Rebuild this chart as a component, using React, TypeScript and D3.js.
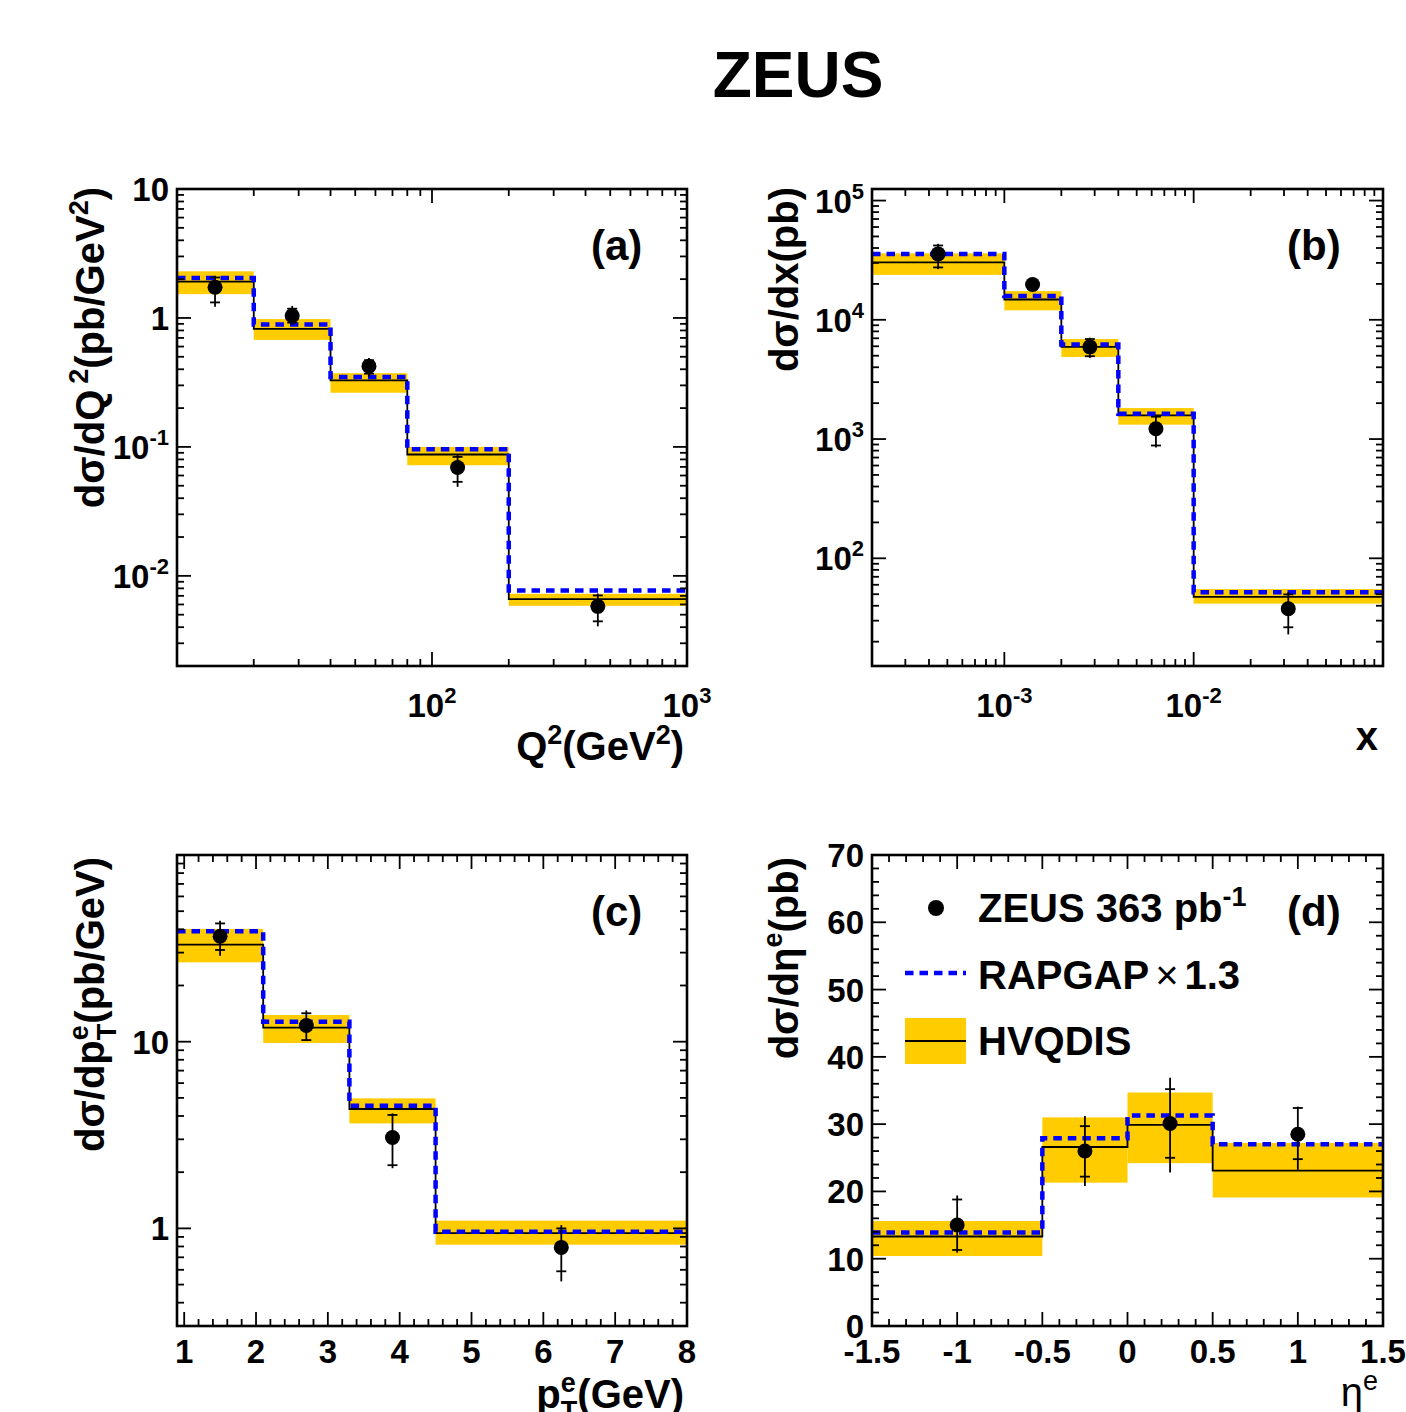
import React, { useEffect, useRef } from 'react';
import * as d3 from 'd3';

// ---- panel (a): d sigma / d Q^2 ----
const q2Edges = [10, 20, 40, 80, 200, 1000];
const q2Centers = [14.1, 28.3, 56.6, 126, 447];
const q2Data = [1.73, 1.04, 0.423, 0.0692, 0.0058];
const q2StatLo = [1.32, 0.92, 0.37, 0.0536, 0.00444];
const q2StatHi = [2.06, 1.18, 0.47, 0.0837, 0.00705];
const q2TotLo = [1.22, 0.88, 0.35, 0.049, 0.00406];
const q2TotHi = [2.12, 1.24, 0.49, 0.087, 0.0073];
const q2Hvq = [1.91, 0.822, 0.328, 0.0873, 0.0066];
const q2HvqLo = [1.53, 0.676, 0.263, 0.0721, 0.00586];
const q2HvqHi = [2.3, 0.98, 0.373, 0.1, 0.00726];
const q2Rap = [2.04, 0.888, 0.348, 0.096, 0.0077];

// ---- panel (b): d sigma / dx ----
const xEdges = [2e-4, 1e-3, 2e-3, 4e-3, 1e-2, 0.1];
const xCenters = [4.47e-4, 1.41e-3, 2.83e-3, 6.32e-3, 3.16e-2];
const xData = [3.57e4, 1.98e4, 5.93e3, 1.22e3, 37.8];
const xStatLo = [2.75e4, 1.8e4, 4.95e3, 883, 26.4];
const xStatHi = [4.2e4, 2.15e4, 6.9e3, 1.54e3, 49.8];
const xTotLo = [2.66e4, 1.75e4, 4.79e3, 850, 23];
const xTotHi = [4.34e4, 2.2e4, 7.08e3, 1.6e3, 52];
const xHvq = [3.03e4, 1.48e4, 5.93e3, 1.58e3, 47.5];
const xHvqLo = [2.38e4, 1.2e4, 4.88e3, 1.32e3, 41.7];
const xHvqHi = [3.61e4, 1.74e4, 6.9e3, 1.82e3, 55.2];
const xRap = [3.57e4, 1.58e4, 6.2e3, 1.63e3, 51.8];

// ---- panel (c): d sigma / d pT ----
const ptEdges = [0.9, 2.1, 3.3, 4.5, 8];
const ptCenters = [1.5, 2.7, 3.9, 6.25];
const ptData = [36.7, 12.2, 3.07, 0.791];
const ptStatLo = [31, 10.2, 2.18, 0.589];
const ptStatHi = [43, 14.2, 4.05, 1.0];
const ptTotLo = [28.9, 10.1, 2.1, 0.52];
const ptTotHi = [44.5, 14.7, 4.13, 1.04];
const ptHvq = [33.1, 11.9, 4.36, 0.944];
const ptHvqLo = [26.6, 9.84, 3.65, 0.818];
const ptHvqHi = [40.2, 13.9, 4.97, 1.1];
const ptRap = [39.0, 12.8, 4.54, 0.96];

// ---- panel (d): d sigma / d eta ----
const etaEdges = [-1.5, -0.5, 0, 0.5, 1.5];
const etaCenters = [-1, -0.25, 0.25, 1];
const etaData = [15.0, 26.0, 30.1, 28.5];
const etaStatLo = [11.3, 22.2, 25.0, 24.8];
const etaStatHi = [18.8, 29.7, 35.2, 32.4];
const etaTotLo = [10.9, 20.8, 22.8, 23.2];
const etaTotHi = [19.4, 31.2, 36.9, 32.6];
const etaHvq = [13.3, 26.6, 29.9, 23.1];
const etaHvqLo = [10.4, 21.3, 24.2, 19.1];
const etaHvqHi = [15.6, 31.0, 34.7, 27.2];
const etaRap = [13.9, 27.9, 31.3, 27.0];

// tick labels: [value, base, superscript]
const aXLabels: [number, string, string][] = [[100, '10', '2'], [1000, '10', '3']];
const aYLabels: [number, string, string][] = [[10, '10', ''], [1, '1', ''], [0.1, '10', '-1'], [0.01, '10', '-2']];
const bXLabels: [number, string, string][] = [[1e-3, '10', '-3'], [1e-2, '10', '-2']];
const bYLabels: [number, string, string][] = [[1e5, '10', '5'], [1e4, '10', '4'], [1e3, '10', '3'], [1e2, '10', '2']];
const cXLabels: [number, string, string][] = [1, 2, 3, 4, 5, 6, 7, 8].map(v => [v, String(v), '']);
const cYLabels: [number, string, string][] = [[10, '10', ''], [1, '1', '']];
const dXLabels: [number, string, string][] = [-1.5, -1, -0.5, 0, 0.5, 1, 1.5].map(v => [v, String(v), '']);
const dYLabels: [number, string, string][] = [0, 10, 20, 30, 40, 50, 60, 70].map(v => [v, String(v), '']);

const FONT = "'Liberation Sans', Arial, Helvetica, sans-serif";
const BAND = '#FFCC00';
const BLUE = '#0000FF';

type Tick = { v: number; major: boolean };

function logTicks(d0: number, d1: number): Tick[] {
  const out: Tick[] = [];
  for (let e = Math.floor(Math.log10(d0)); e <= Math.ceil(Math.log10(d1)); e++) {
    for (let k = 1; k <= 9; k++) {
      const v = k * Math.pow(10, e);
      if (v >= d0 * 0.9999 && v <= d1 * 1.0001) out.push({ v, major: k === 1 });
    }
  }
  return out;
}

function linTicks(d0: number, d1: number, major: number, minor: number): Tick[] {
  const out: Tick[] = [];
  const s = Math.ceil(d0 / minor - 1e-6), e = Math.floor(d1 / minor + 1e-6);
  for (let i = s; i <= e; i++) {
    const v = i * minor;
    out.push({ v, major: Math.abs(v / major - Math.round(v / major)) < 1e-6 });
  }
  return out;
}

interface Panel {
  x: number; y: number; w: number; h: number;
  xScale: any; yScale: any;
  xTicks: Tick[]; yTicks: Tick[];
  xLabels: [number, string, string][]; yLabels: [number, string, string][];
  xLabelDy: number;
  edges: number[]; centers: number[];
  data: number[]; statLo: number[]; statHi: number[]; totLo: number[]; totHi: number[];
  hvq: number[]; hvqLo: number[]; hvqHi: number[]; rap: number[];
  label: string; labelY: number;
}

function drawPanel(svg: d3.Selection<SVGSVGElement, unknown, null, undefined>, p: Panel) {
  const g = svg.append('g').attr('transform', `translate(${p.x},${p.y})`);
  const x = p.xScale.range([0, p.w]);
  const y = p.yScale.range([p.h, 0]);
  const yBottom = p.yScale.domain()[0];
  const nb = p.edges.length - 1;

  // HVQDIS uncertainty band
  for (let i = 0; i < nb; i++) {
    g.append('rect')
      .attr('x', x(p.edges[i]))
      .attr('width', x(p.edges[i + 1]) - x(p.edges[i]))
      .attr('y', y(p.hvqHi[i]))
      .attr('height', y(p.hvqLo[i]) - y(p.hvqHi[i]))
      .attr('fill', BAND);
  }

  const stepLine = d3.line<[number, number]>()
    .x(d => x(d[0]))
    .y(d => y(d[1]))
    .curve(d3.curveStepAfter);

  const stepPts = (vals: number[], fromBottom: boolean): [number, number][] => {
    const pts: [number, number][] = [];
    if (fromBottom) pts.push([p.edges[0], yBottom]);
    vals.forEach((v, i) => pts.push([p.edges[i], v]));
    pts.push([p.edges[nb], vals[nb - 1]]);
    return pts;
  };

  // HVQDIS central
  g.append('path')
    .attr('d', stepLine(stepPts(p.hvq, true)))
    .attr('fill', 'none')
    .attr('stroke', '#000')
    .attr('stroke-width', 1.8);

  // RAPGAP x 1.3
  g.append('path')
    .attr('d', stepLine(stepPts(p.rap, false)))
    .attr('fill', 'none')
    .attr('stroke', BLUE)
    .attr('stroke-width', 4.5)
    .attr('stroke-dasharray', '8.5 6');

  // data with errors
  p.centers.forEach((c, i) => {
    const cx = x(c);
    g.append('line')
      .attr('x1', cx).attr('x2', cx)
      .attr('y1', y(p.totLo[i])).attr('y2', y(p.totHi[i]))
      .attr('stroke', '#000').attr('stroke-width', 1.8);
    [p.statLo[i], p.statHi[i]].forEach(s => {
      g.append('line')
        .attr('x1', cx - 5).attr('x2', cx + 5)
        .attr('y1', y(s)).attr('y2', y(s))
        .attr('stroke', '#000').attr('stroke-width', 1.8);
    });
    g.append('circle')
      .attr('cx', cx).attr('cy', y(p.data[i]))
      .attr('r', 7.5).attr('fill', '#000');
  });

  // ticks on all four sides
  const tickG = g.append('g').attr('stroke', '#000').attr('stroke-width', 1.8);
  p.xTicks.forEach(t => {
    const tx = x(t.v);
    const len = t.major ? 14 : 7;
    tickG.append('line').attr('x1', tx).attr('x2', tx).attr('y1', p.h).attr('y2', p.h - len);
    tickG.append('line').attr('x1', tx).attr('x2', tx).attr('y1', 0).attr('y2', len);
  });
  p.yTicks.forEach(t => {
    const ty = y(t.v);
    const len = t.major ? 14 : 7;
    tickG.append('line').attr('x1', 0).attr('x2', len).attr('y1', ty).attr('y2', ty);
    tickG.append('line').attr('x1', p.w).attr('x2', p.w - len).attr('y1', ty).attr('y2', ty);
  });

  // frame
  g.append('rect')
    .attr('width', p.w).attr('height', p.h)
    .attr('fill', 'none').attr('stroke', '#000').attr('stroke-width', 2.6);

  // tick labels
  const fs = 33;
  p.xLabels.forEach(([v, base, sup]) => {
    const t = g.append('text')
      .attr('x', x(v)).attr('y', p.h + p.xLabelDy)
      .attr('text-anchor', 'middle')
      .attr('font-family', FONT).attr('font-weight', 'bold').attr('font-size', fs);
    t.append('tspan').text(base);
    if (sup) t.append('tspan').attr('dy', -14).attr('font-size', 22).text(sup);
  });
  p.yLabels.forEach(([v, base, sup]) => {
    const t = g.append('text')
      .attr('x', -8).attr('y', y(v) + 12)
      .attr('text-anchor', 'end')
      .attr('font-family', FONT).attr('font-weight', 'bold').attr('font-size', fs);
    t.append('tspan').text(base);
    if (sup) t.append('tspan').attr('dy', -14).attr('font-size', 22).text(sup);
  });

  // panel label
  g.append('text')
    .attr('x', p.w - 96).attr('y', p.labelY)
    .attr('font-family', FONT).attr('font-weight', 'bold').attr('font-size', 42)
    .text(p.label);
}

const App: React.FC = () => {
  const svgRef = useRef<SVGSVGElement>(null);

  useEffect(() => {
    if (!svgRef.current) return;
    const svg = d3.select(svgRef.current);
    svg.selectAll('*').remove();

    drawPanel(svg, {
      x: 177, y: 189, w: 510, h: 477,
      xScale: d3.scaleLog().domain([10, 1000]),
      yScale: d3.scaleLog().domain([0.002, 10]),
      xTicks: logTicks(10, 1000), yTicks: logTicks(0.002, 10),
      xLabels: aXLabels, yLabels: aYLabels, xLabelDy: 51,
      edges: q2Edges, centers: q2Centers,
      data: q2Data, statLo: q2StatLo, statHi: q2StatHi, totLo: q2TotLo, totHi: q2TotHi,
      hvq: q2Hvq, hvqLo: q2HvqLo, hvqHi: q2HvqHi, rap: q2Rap,
      label: '(a)', labelY: 71,
    });
    drawPanel(svg, {
      x: 872, y: 189, w: 511, h: 477,
      xScale: d3.scaleLog().domain([2e-4, 0.1]),
      yScale: d3.scaleLog().domain([12.5, 1.25e5]),
      xTicks: logTicks(2e-4, 0.1), yTicks: logTicks(12.5, 1.25e5),
      xLabels: bXLabels, yLabels: bYLabels, xLabelDy: 51,
      edges: xEdges, centers: xCenters,
      data: xData, statLo: xStatLo, statHi: xStatHi, totLo: xTotLo, totHi: xTotHi,
      hvq: xHvq, hvqLo: xHvqLo, hvqHi: xHvqHi, rap: xRap,
      label: '(b)', labelY: 71,
    });
    drawPanel(svg, {
      x: 177, y: 855, w: 510, h: 471,
      xScale: d3.scaleLinear().domain([0.9, 8]),
      yScale: d3.scaleLog().domain([0.3, 100]),
      xTicks: linTicks(0.9, 8, 1, 0.2), yTicks: logTicks(0.3, 100),
      xLabels: cXLabels, yLabels: cYLabels, xLabelDy: 37,
      edges: ptEdges, centers: ptCenters,
      data: ptData, statLo: ptStatLo, statHi: ptStatHi, totLo: ptTotLo, totHi: ptTotHi,
      hvq: ptHvq, hvqLo: ptHvqLo, hvqHi: ptHvqHi, rap: ptRap,
      label: '(c)', labelY: 71,
    });
    drawPanel(svg, {
      x: 872, y: 855, w: 511, h: 471,
      xScale: d3.scaleLinear().domain([-1.5, 1.5]),
      yScale: d3.scaleLinear().domain([0, 70]),
      xTicks: linTicks(-1.5, 1.5, 0.5, 0.1), yTicks: linTicks(0, 70, 10, 2),
      xLabels: dXLabels, yLabels: dYLabels, xLabelDy: 37,
      edges: etaEdges, centers: etaCenters,
      data: etaData, statLo: etaStatLo, statHi: etaStatHi, totLo: etaTotLo, totHi: etaTotHi,
      hvq: etaHvq, hvqLo: etaHvqLo, hvqHi: etaHvqHi, rap: etaRap,
      label: '(d)', labelY: 71,
    });

    // title
    svg.append('text')
      .attr('x', 798).attr('y', 97)
      .attr('text-anchor', 'middle')
      .attr('font-family', FONT).attr('font-weight', 'bold').attr('font-size', 64)
      .text('ZEUS');

    const tfs = 40;
    const bold = (sel: any) => sel.attr('font-family', FONT).attr('font-weight', 'bold').attr('font-size', tfs);

    // y titles
    const ya = bold(svg.append('text')).attr('transform', 'translate(104,187) rotate(-90)').attr('text-anchor', 'end');
    ya.append('tspan').text('dσ/dQ');
    ya.append('tspan').attr('dx', 6).attr('dy', -16).attr('font-size', 27).text('2');
    ya.append('tspan').attr('dy', 16).text('(pb/GeV');
    ya.append('tspan').attr('dy', -16).attr('font-size', 27).text('2');
    ya.append('tspan').attr('dy', 16).text(')');

    const yb = bold(svg.append('text')).attr('transform', 'translate(798,187) rotate(-90)').attr('text-anchor', 'end');
    yb.append('tspan').text('dσ/dx(pb)');

    const yc = bold(svg.append('text')).attr('transform', 'translate(104,857) rotate(-90)').attr('text-anchor', 'end');
    yc.append('tspan').text('dσ/dp');
    yc.append('tspan').attr('dy', -16).attr('font-size', 27).text('e');
    yc.append('tspan').attr('dx', -15).attr('dy', 28).attr('font-size', 27).text('T');
    yc.append('tspan').attr('dy', -12).text('(pb/GeV)');

    const yd = bold(svg.append('text')).attr('transform', 'translate(798,857) rotate(-90)').attr('text-anchor', 'end');
    yd.append('tspan').text('dσ/dη');
    yd.append('tspan').attr('dy', -16).attr('font-size', 27).text('e');
    yd.append('tspan').attr('dy', 16).text('(pb)');

    // x titles
    const xa = bold(svg.append('text')).attr('x', 684).attr('y', 760).attr('text-anchor', 'end');
    xa.append('tspan').text('Q');
    xa.append('tspan').attr('dy', -16).attr('font-size', 27).text('2');
    xa.append('tspan').attr('dy', 16).text('(GeV');
    xa.append('tspan').attr('dy', -16).attr('font-size', 27).text('2');
    xa.append('tspan').attr('dy', 16).text(')');

    bold(svg.append('text')).attr('x', 1378).attr('y', 750).attr('text-anchor', 'end').text('x');

    const xc = bold(svg.append('text')).attr('x', 684).attr('y', 1408).attr('text-anchor', 'end');
    xc.append('tspan').text('p');
    xc.append('tspan').attr('dy', -16).attr('font-size', 27).text('e');
    xc.append('tspan').attr('dx', -15).attr('dy', 28).attr('font-size', 27).text('T');
    xc.append('tspan').attr('dy', -12).text('(GeV)');

    const xd = svg.append('text').attr('x', 1378).attr('y', 1406).attr('text-anchor', 'end')
      .attr('font-family', FONT).attr('font-size', tfs);
    xd.append('tspan').text('η');
    xd.append('tspan').attr('dy', -16).attr('font-size', 27).text('e');

    // legend in panel (d)
    const lg = svg.append('g');
    lg.append('circle').attr('cx', 936).attr('cy', 908).attr('r', 8).attr('fill', '#000');
    const l1 = bold(lg.append('text')).attr('x', 978).attr('y', 922);
    l1.append('tspan').text('ZEUS 363 pb');
    l1.append('tspan').attr('dy', -16).attr('font-size', 27).text('-1');
    lg.append('line').attr('x1', 905).attr('x2', 966).attr('y1', 973).attr('y2', 973)
      .attr('stroke', BLUE).attr('stroke-width', 4.5).attr('stroke-dasharray', '8.5 6');
    const l2 = bold(lg.append('text')).attr('x', 978).attr('y', 989);
    l2.append('tspan').text('RAPGAP');
    l2.append('tspan').attr('font-weight', 'normal').attr('dx', 6).text('×');
    l2.append('tspan').attr('dx', 6).text('1.3');
    lg.append('rect').attr('x', 905).attr('y', 1018).attr('width', 61).attr('height', 46).attr('fill', BAND);
    lg.append('line').attr('x1', 905).attr('x2', 966).attr('y1', 1041).attr('y2', 1041)
      .attr('stroke', '#000').attr('stroke-width', 1.8);
    bold(lg.append('text')).attr('x', 978).attr('y', 1055).text('HVQDIS');
  }, []);

  return (
    <svg
      ref={svgRef}
      width={1406}
      height={1412}
      style={{ position: 'absolute', left: 0, top: 0, background: '#fff' }}
    />
  );
};

export default App;
